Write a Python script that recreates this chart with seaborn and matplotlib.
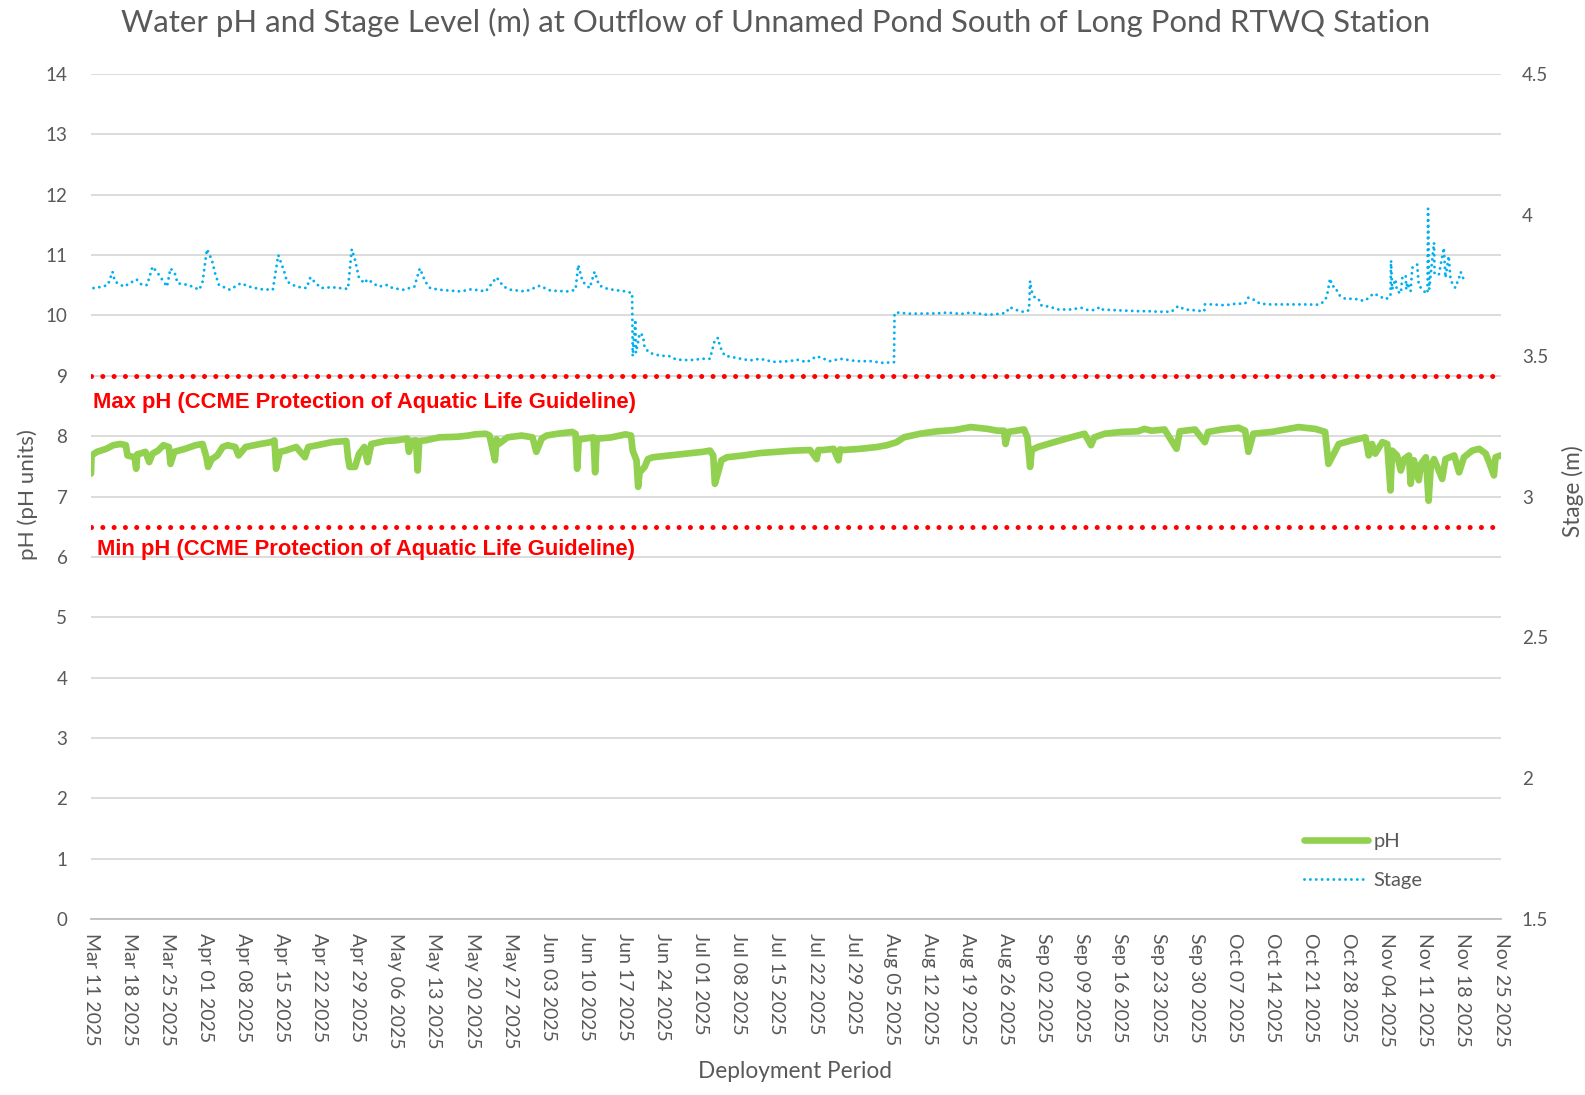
import numpy as np
import pandas as pd
import matplotlib
matplotlib.use("Agg")
import matplotlib.pyplot as plt
import matplotlib.transforms as mtransforms
import seaborn as sns

# ---------------- data ----------------
START = "2025-03-11"
END = "2025-11-25"

# pH: day offset from START, value (pH units)
ph_days = [0.0, 0.1, 1.1, 2.8, 4.1, 5.4, 6.4, 6.7, 8.0, 8.3, 8.5, 9.0, 10.0, 10.7, 11.3, 12.3,
           13.3, 14.3, 14.6, 15.3, 17.3, 19.2, 20.5, 21.2, 21.5, 22.2, 23.2, 24.2, 25.1, 26.5,
           27.1, 28.4, 31.1, 33.0, 33.7, 34.0, 34.7, 35.7, 37.7, 39.3, 39.9, 41.6, 44.2, 46.9,
           47.2, 47.5, 48.5, 49.2, 50.2, 50.8, 51.5, 54.1, 56.1, 58.1, 58.4, 58.8, 59.7, 60.0,
           60.3, 61.4, 64.0, 67.3, 69.3, 70.6, 72.5, 73.2, 74.2, 74.5, 74.9, 76.5, 79.1, 81.1,
           81.8, 82.8, 83.7, 85.7, 88.4, 89.0, 89.3, 89.6, 90.0, 92.3, 92.6, 92.9, 93.3, 95.6,
           98.2, 99.2, 99.5, 100.2, 100.5, 100.8, 101.1, 101.7, 102.3, 103.2, 106.3, 109.4,
           112.4, 113.7, 114.3, 114.6, 115.2, 115.8, 116.8, 119.8, 122.9, 126.0, 129.0, 132.1,
           133.3, 133.6, 134.6, 136.4, 137.3, 137.6, 138.2, 141.3, 144.4, 146.2, 148.0, 149.3,
           152.3, 155.4, 158.5, 161.6, 164.7, 166.5, 167.7, 168.0, 168.5, 171.4, 172.0, 172.5,
           172.8, 173.9, 176.9, 180.0, 182.5, 183.7, 184.3, 186.2, 189.3, 192.3, 193.5, 194.8,
           197.2, 199.4, 200.0, 202.8, 204.6, 205.2, 207.7, 210.8, 212.0, 212.6, 213.5, 216.9,
           220.0, 221.8, 224.9, 226.7, 227.3, 228.3, 229.2, 231.6, 234.1, 234.7, 235.3, 235.9,
           237.2, 238.1, 238.7, 239.0, 239.9, 240.6, 241.2, 242.1, 242.4, 243.0, 243.9, 244.3,
           245.2, 245.7, 246.1, 246.7, 247.3, 248.2, 248.8, 250.4, 251.3, 252.2, 253.7, 255.0,
           256.2, 256.8, 257.7, 258.0, 259.9]
ph_values = [7.38, 7.68, 7.74, 7.79, 7.85, 7.87, 7.85, 7.68, 7.65, 7.46, 7.70, 7.71, 7.74, 7.57, 7.71, 7.76,
             7.85, 7.82, 7.54, 7.74, 7.79, 7.85, 7.87, 7.65, 7.49, 7.62, 7.68, 7.82, 7.85, 7.82,
             7.68, 7.82, 7.87, 7.90, 7.93, 7.46, 7.74, 7.76, 7.82, 7.65, 7.82, 7.85, 7.90, 7.92,
             7.65, 7.49, 7.49, 7.70, 7.82, 7.57, 7.87, 7.92, 7.93, 7.96, 7.74, 7.92, 7.93, 7.43,
             7.92, 7.93, 7.98, 7.99, 8.01, 8.03, 8.04, 8.01, 7.60, 7.95, 7.87, 7.98, 8.01, 7.98,
             7.74, 7.96, 8.01, 8.04, 8.07, 8.04, 7.46, 7.95, 7.95, 7.98, 7.40, 7.96, 7.96, 7.98,
             8.03, 8.01, 7.76, 7.60, 7.16, 7.43, 7.43, 7.49, 7.62, 7.65, 7.68, 7.71,
             7.74, 7.76, 7.68, 7.21, 7.40, 7.60, 7.65, 7.68, 7.72, 7.74, 7.76, 7.77,
             7.62, 7.77, 7.77, 7.79, 7.60, 7.78, 7.77, 7.79, 7.82, 7.85, 7.90, 7.98,
             8.04, 8.08, 8.10, 8.15, 8.12, 8.09, 8.09, 7.87, 8.07, 8.11, 7.98, 7.49,
             7.77, 7.82, 7.90, 7.98, 8.04, 7.85, 7.98, 8.04, 8.07, 8.08, 8.12, 8.09,
             8.11, 7.79, 8.08, 8.11, 7.90, 8.07, 8.11, 8.14, 8.09, 7.74, 8.04, 8.07,
             8.12, 8.15, 8.12, 8.07, 7.54, 7.71, 7.87, 7.93, 7.98, 7.68, 7.87, 7.71,
             7.90, 7.87, 7.10, 7.76, 7.68, 7.43, 7.62, 7.68, 7.21, 7.60, 7.27, 7.54,
             7.65, 6.93, 7.49, 7.62, 7.49, 7.29, 7.62, 7.68, 7.40, 7.65, 7.76, 7.79,
             7.71, 7.57, 7.35, 7.65, 7.71]

# Stage: day offset from START, value (m)
stage_days = [0.46, 2.1, 3.1, 3.95, 4.4, 6.06, 8.36, 9.35, 10.3, 11.3, 12.3, 13.96, 14.6, 15.4,
              15.9, 17.9, 19.9, 20.5, 21.3, 22.2, 22.8, 23.5, 25.5, 27.5, 29.1, 31.1, 33.4, 34.4,
              35.4, 36.0, 37.7, 39.6, 40.3, 41.3, 42.3, 44.2, 47.2, 47.9, 48.5, 49.2, 50.2, 50.8,
              52.8, 54.4, 55.4, 57.4, 59.4, 60.4, 61.4, 62.3, 64.0, 67.9, 69.9, 72.5, 74.5, 75.8,
              77.1, 79.8, 82.4, 84.4, 87.7, 89.0, 89.5, 90.3, 91.6, 92.5, 93.3, 94.3, 95.9, 98.3,
              99.4, 99.5, 100.0, 100.1, 100.8, 101.4, 101.7, 102.6, 104.5, 106.3,
              107.5, 110.0, 112.4, 113.7, 114.6, 115.2, 115.5, 116.4, 118.6, 121.0, 122.9, 125.3,
              128.4, 129.6, 131.5, 133.3, 134.6, 135.8, 137.6, 140.7, 143.2, 145.6, 147.2, 147.5,
              147.6, 148.1, 150.5, 155.4, 157.3, 159.8, 161.6, 164.7, 167.1, 168.1, 168.7, 169.6,
              170.5, 171.6, 172.3, 172.5, 172.7, 173.0, 173.6, 174.2, 174.6, 175.4, 176.7, 177.6,
              180.0, 181.9, 183.1, 184.3, 185.3, 185.6, 188.6, 192.3, 194.2, 196.0, 198.5, 198.8,
              199.7, 200.9, 202.8, 204.0, 204.5, 204.6, 205.9, 208.3, 210.1, 212.0, 212.6, 213.8,
              214.7, 216.3, 218.7, 221.2, 223.0, 225.5, 226.4, 227.0, 227.6, 228.0, 228.6, 229.0,
              229.5, 230.4, 232.2, 233.2, 234.1, 235.0, 235.6, 236.9, 237.8, 238.7, 238.8, 239.0,
              239.6, 239.9, 240.6, 240.9, 241.5, 241.6, 241.8, 242.4, 242.7, 243.6, 243.9, 244.8,
              245.5, 245.6, 245.8, 246.7, 246.8, 247.6, 248.5, 248.8, 249.4, 249.7, 250.0, 250.6,
              251.3, 251.6, 252.2]
stage_values = [3.740, 3.745, 3.751, 3.798, 3.763, 3.745, 3.771, 3.751, 3.751, 3.816, 3.792, 3.745, 3.810, 3.792,
                3.757, 3.751, 3.734, 3.763, 3.878, 3.840, 3.792, 3.751, 3.734, 3.757, 3.745, 3.736, 3.734, 3.857,
                3.804, 3.763, 3.745, 3.740, 3.778, 3.757, 3.740, 3.743, 3.737, 3.878, 3.840, 3.778, 3.757, 3.771,
                3.745, 3.751, 3.740, 3.734, 3.745, 3.810, 3.763, 3.740, 3.734, 3.728, 3.736, 3.728, 3.778, 3.745,
                3.734, 3.728, 3.748, 3.731, 3.728, 3.734, 3.822, 3.763, 3.740, 3.798, 3.751, 3.740, 3.734, 3.728,
                3.722, 3.498, 3.628, 3.510, 3.580, 3.571, 3.528, 3.510, 3.500, 3.498,
                3.486, 3.484, 3.489, 3.489, 3.557, 3.563, 3.533, 3.500, 3.492, 3.483, 3.489, 3.478,
                3.4805, 3.486, 3.477, 3.498, 3.489, 3.4805, 3.489, 3.4805, 3.4805, 3.474, 3.477, 3.477,
                3.651, 3.653, 3.649, 3.650, 3.653, 3.648, 3.653, 3.645, 3.649, 3.652, 3.672, 3.666,
                3.658, 3.655, 3.662, 3.765, 3.735, 3.717, 3.700, 3.697, 3.678, 3.676, 3.670, 3.664,
                3.664, 3.670, 3.662, 3.662, 3.672, 3.664, 3.661, 3.658, 3.658, 3.656, 3.656, 3.662,
                3.676, 3.664, 3.661, 3.658, 3.658, 3.682, 3.682, 3.679, 3.684, 3.685, 3.706, 3.697,
                3.685, 3.682, 3.682, 3.682, 3.682, 3.681, 3.691, 3.709, 3.774, 3.747, 3.744, 3.723,
                3.711, 3.702, 3.702, 3.696, 3.696, 3.711, 3.721, 3.709, 3.700, 3.711, 3.838, 3.735,
                3.771, 3.729, 3.721, 3.783, 3.783, 3.735, 3.759, 3.729, 3.812, 3.824, 3.750, 3.729,
                3.721, 4.022, 3.735, 3.901, 3.789, 3.789, 3.883, 3.777, 3.854, 3.777, 3.759, 3.741,
                3.777, 3.797, 3.768]

PH_MAX = 9.0
PH_MIN = 6.5
PH_TICKS = list(range(0, 15))
STAGE_TICKS = [1.5, 2.0, 2.5, 3.0, 3.5, 4.0, 4.5]

TITLE = "Water pH and Stage Level (m) at Outflow of Unnamed Pond South of Long Pond RTWQ Station"
MAX_LABEL = "Max pH (CCME Protection of Aquatic Life Guideline)"
MIN_LABEL = "Min pH (CCME Protection of Aquatic Life Guideline)"

# ---------------- frames ----------------
start = pd.Timestamp(START)
ph_df = pd.DataFrame({"date": start + pd.to_timedelta(ph_days, unit="D"), "pH": ph_values})
st_df = pd.DataFrame({"date": start + pd.to_timedelta(stage_days, unit="D"), "Stage": stage_values})

# ---------------- style ----------------
sns.set_style("white")
plt.rcParams["font.family"] = ["Lato", "DejaVu Sans"]
GRAY = "#595959"
GREEN = "#92d050"
BLUE = "#00b0f0"
RED = "#ff0000"

fig = plt.figure(figsize=(15.85, 10.95), dpi=100)
W, H = 1585, 1095
ax = fig.add_axes([91 / W, 1 - 919 / H, 1410 / W, 845 / H])
ax2 = ax.twinx()

# grid
ax.set_ylim(0, 14)
ax.set_yticks(PH_TICKS)
ax.yaxis.grid(True, color="#d9d9d9", linewidth=1.3)
ax.set_axisbelow(True)

# guideline lines
for val in (PH_MAX, PH_MIN):
    ax.axhline(val, color=RED, linewidth=3.6, linestyle=(0, (0.01, 2.25)),
               dash_capstyle="round", zorder=3)

sns.lineplot(data=ph_df, x="date", y="pH", ax=ax, color=GREEN, linewidth=4.8,
             estimator=None, sort=False, label="pH", zorder=4,
             solid_joinstyle="round", solid_capstyle="round")
sns.lineplot(data=st_df, x="date", y="Stage", ax=ax2, color=BLUE, linewidth=2.1,
             estimator=None, sort=False, label="Stage",
             linestyle=(0, (0.01, 2.0)), dash_capstyle="round")

ax2.set_ylim(1.5, 4.5)
ax2.set_yticks(STAGE_TICKS)
ax2.set_yticklabels([f"{v:g}" for v in STAGE_TICKS])

# x axis
xmin, xmax = pd.Timestamp(START), pd.Timestamp(END)
ax.set_xlim(xmin, xmax)
xt = pd.date_range(START, END, freq="7D")
ax.set_xticks(xt)
ax.set_xticklabels([d.strftime("%b %d %Y") for d in xt], rotation=270,
                   ha="center", va="top")
ax.tick_params(axis="x", direction="out", length=6, width=1.3, color="#bfbfbf",
               labelsize=14, labelcolor=GRAY, pad=4)
ax.tick_params(axis="y", length=0, labelsize=13.5, labelcolor=GRAY, pad=17)
ax2.tick_params(axis="y", length=0, labelsize=13.5, labelcolor=GRAY, pad=15)

for s in ["top", "left", "right"]:
    ax.spines[s].set_visible(False)
for s in ax2.spines.values():
    s.set_visible(False)
ax.spines["bottom"].set_color("#bfbfbf")
ax.spines["bottom"].set_linewidth(1.3)

ax.set_xlabel("")
ax.set_ylabel("")
ax2.set_ylabel("")

# guideline labels
trans = mtransforms.blended_transform_factory(ax.transAxes, ax.transData)
ax.text(0.0015, 8.55, MAX_LABEL, transform=trans, color=RED, fontsize=15.8,
        fontweight="bold", family="Liberation Sans", ha="left", va="center")
ax.text(0.0045, 6.13, MIN_LABEL, transform=trans, color=RED, fontsize=15.8,
        fontweight="bold", family="Liberation Sans", ha="left", va="center")

# legend
h1, l1 = ax.get_legend_handles_labels()
h2, l2 = ax2.get_legend_handles_labels()
if ax.get_legend():
    ax.get_legend().remove()
if ax2.get_legend():
    ax2.get_legend().remove()
leg = ax2.legend(h1 + h2, l1 + l2, loc="center left",
                 bbox_to_anchor=(1304 / W, 1 - 861 / H), bbox_transform=fig.transFigure,
                 frameon=False, fontsize=14.5, handlelength=3.2, handletextpad=0.25,
                 labelspacing=1.12, borderpad=0, borderaxespad=0)
for t in leg.get_texts():
    t.set_color(GRAY)

# titles and axis labels
fig.text(776 / W, 1 - 22 / H, TITLE, ha="center", va="center", fontsize=22.4, color=GRAY)
fig.text(795 / W, 1 - 1072 / H, "Deployment Period", ha="center", va="center",
         fontsize=16.3, color=GRAY)
fig.text(28 / W, 1 - 495 / H, "pH (pH units)", ha="center", va="center", rotation=90,
         fontsize=16.1, color=GRAY)
fig.text(1573 / W, 1 - 491 / H, "Stage (m)", ha="center", va="center", rotation=90,
         fontsize=16.3, color=GRAY)

fig.savefig("out.png", dpi=100, facecolor="white")
